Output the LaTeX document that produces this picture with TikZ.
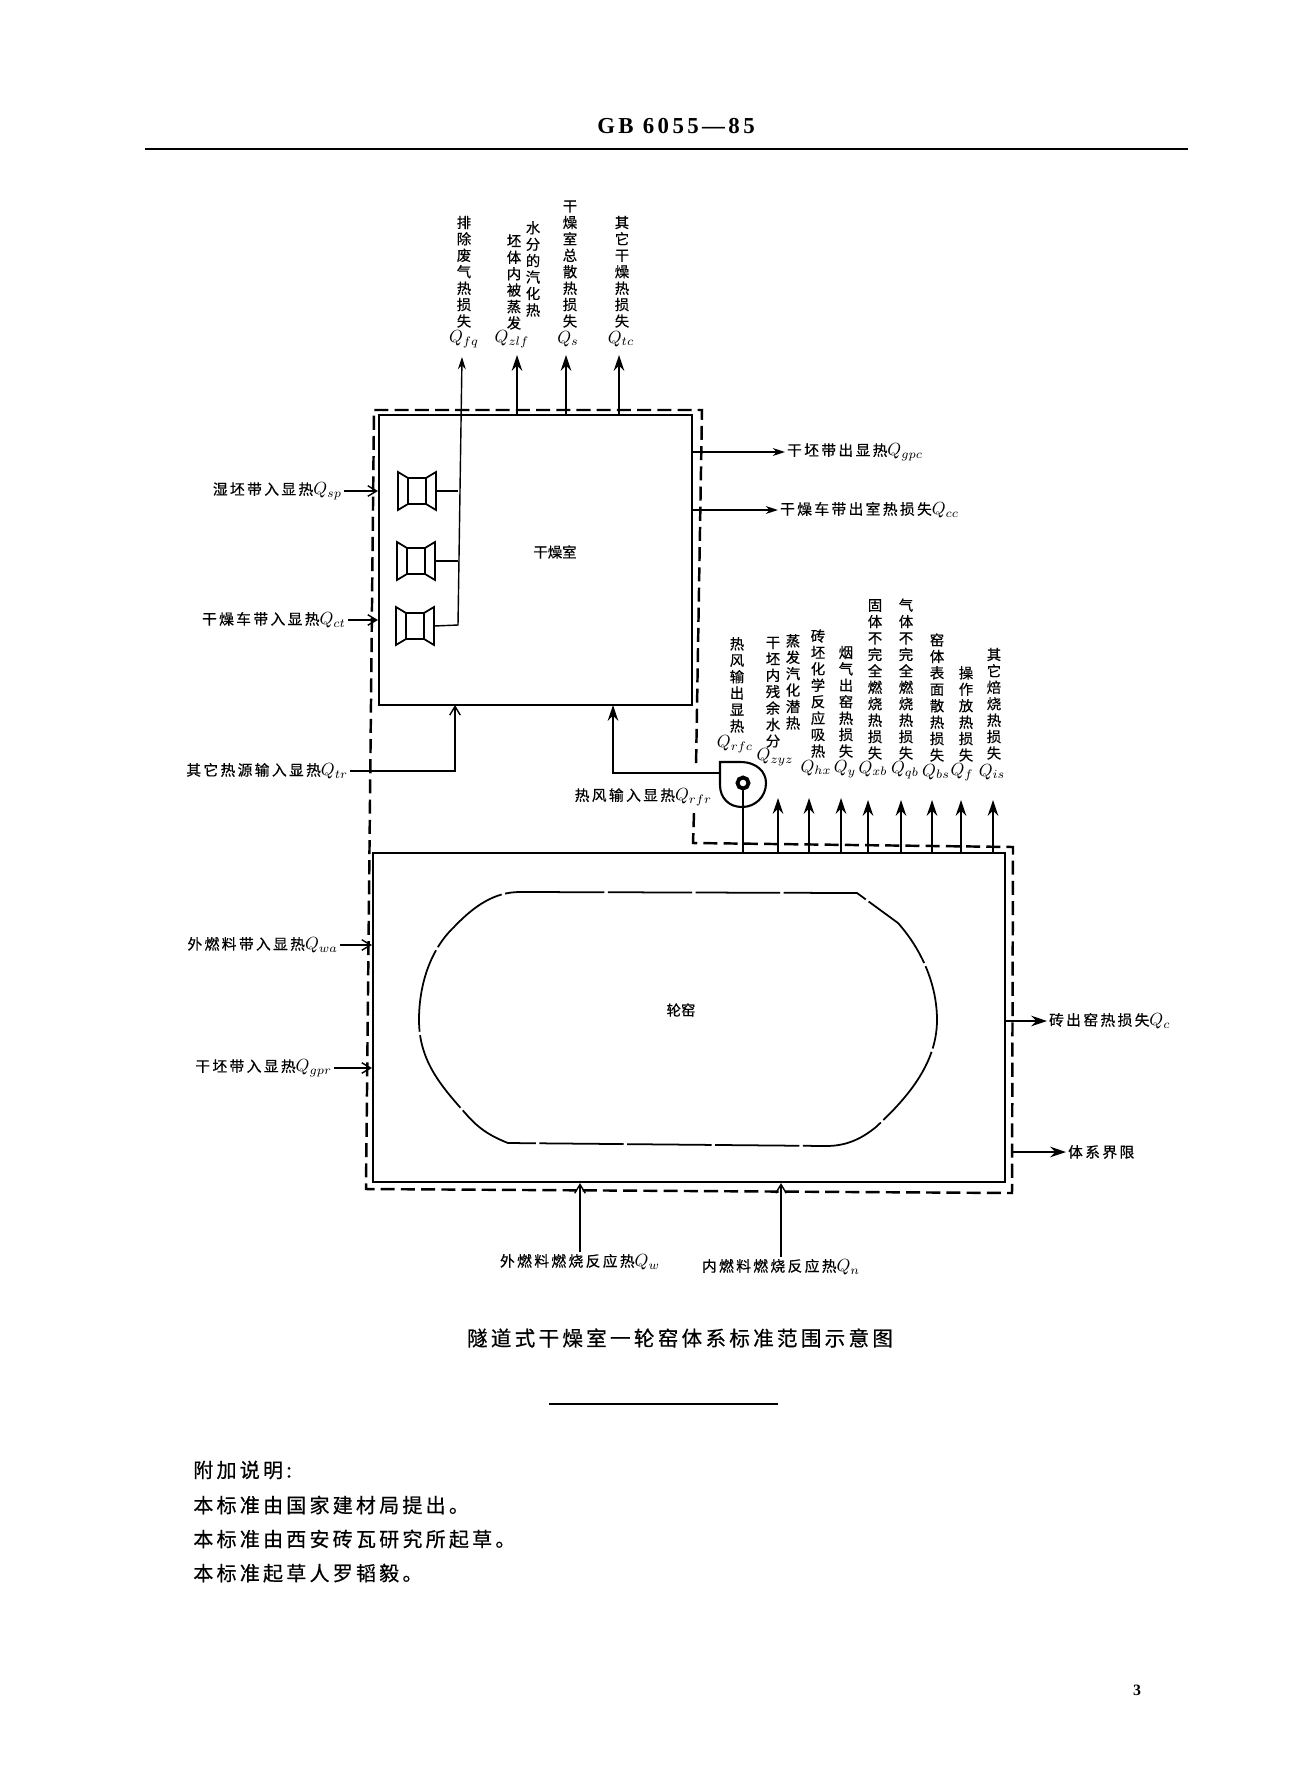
\documentclass[tikz,border=0pt]{standalone}
\usepackage{fontspec}
\usetikzlibrary{arrows.meta,fit}
\newfontfamily\cjk[FakeBold=0.5]{Noto Sans CJK SC}
\newfontfamily\cjksp[LetterSpace=16,FakeBold=0.5]{Noto Sans CJK SC}
\newfontfamily\gbfont[LetterSpace=15]{Liberation Serif}
\newcommand{\Qh}[1]{{\fontsize{10}{12}\selectfont$Q_{#1}$}}
\tikzset{
    vlabel/.style={font=\cjk\fontsize{8.2}{9.35}\selectfont, align=center, inner sep=0, anchor=south},
    hlabel/.style={font=\cjksp\fontsize{8.4}{10}\selectfont, inner sep=1pt},
    qlabel/.style={font=\fontsize{10}{12}\selectfont, inner sep=0},
    bodytext/.style={font=\cjksp\fontsize{11.4}{13}\selectfont, inner sep=0},
    wall/.style={draw, line width=1.2pt, inner sep=0},
    boundary/.style={line width=1.4pt, dash pattern=on 8pt off 3.5pt},
    bigflow/.style={line width=1.1pt, -{Stealth[length=9pt,width=6pt]}},
    thinflow/.style={line width=0.8pt, -{Stealth[length=7pt,width=4.5pt]}},
    inflow/.style={line width=0.8pt, -{Straight Barb[length=5pt,width=6pt]}},
    dryfan/.pic={
        \draw[line width=1pt] (-19,-19) -- (-9,-13) -- (-9,13) -- (-19,19) -- cycle;
        \draw[line width=1pt] (19,-19) -- (9,-13) -- (9,13) -- (19,19) -- cycle;
        \draw[line width=1pt] (-9,-13) rectangle (9,13);
        \coordinate (-east) at (19,0);
    },
}
\begin{document}
\begin{tikzpicture}[x=0.02cm,y=-0.02cm]
    \useasboundingbox (0,0) rectangle (1300,1784);
    % page head
    \node[font=\gbfont\bfseries\fontsize{13}{15}\selectfont, inner sep=0] (head) at (676,126) {GB 6055—85};
    \coordinate (ruleL) at (145,149);
    \coordinate (ruleR) at (1188,149);
    \draw[line width=1.1pt] (ruleL) -- (ruleR);
    % rooms
    \node[wall, fit={(379,415) (692,705)}] (dry) {};
    \node[wall, fit={(373,853) (1005,1182)}] (kiln) {};
    \node[font=\cjk\fontsize{8.2}{10}\selectfont, inner sep=0] (drylabel) at (555,552) {干燥室};
    \node[font=\cjk\fontsize{8.2}{10}\selectfont, inner sep=0] (kilnlabel) at (681,1010) {轮窑};
    % system boundary
    \draw[boundary] (694,813) -- (693,843) -- (1013,847) -- (1012,1193) -- (366,1189) -- (374,410) -- (702,410) -- (696,768);
    % ring of the kiln
    \draw[line width=1pt, dash pattern=on 48pt off 2pt]
        (520,892) -- (857,893) -- (898,923)
        .. controls (922,950) and (937,985) .. (937,1020)
        .. controls (937,1065) and (905,1100) .. (876,1127)
        .. controls (860,1140) and (845,1146) .. (826,1146)
        -- (508,1143)
        .. controls (490,1136) and (478,1128) .. (466,1114)
        .. controls (440,1085) and (419,1060) .. (419,1020)
        .. controls (419,985) and (430,950) .. (454,927)
        .. controls (475,905) and (495,892) .. (520,892);
    % fans of the drying room
    \pic (fana) at (417,491) {dryfan};
    \pic (fanb) at (416,561) {dryfan};
    \pic (fanc) at (415,626) {dryfan};
    \coordinate (duct) at (458,625);
    \coordinate (tfq) at (462,357);
    \draw[thinflow] (fanc-east) -- (duct) -- (tfq);
    \draw[line width=0.8pt] (fana-east) -- (fana-east -| duct);
    \draw[line width=0.8pt] (fanb-east) -- (fanb-east -| duct);
    % losses on top of the drying room
    \node[vlabel] (lfq) at (464,328) {排\\除\\废\\气\\热\\损\\失};
    \node[vlabel] (lzla) at (514,330) {坯\\体\\内\\被\\蒸\\发};
    \node[vlabel] (lzlb) at (533,317) {水\\分\\的\\汽\\化\\热};
    \node[vlabel] (ls) at (570,328) {干\\燥\\室\\总\\散\\热\\损\\失};
    \node[vlabel] (ltc) at (622,328) {其\\它\\干\\燥\\热\\损\\失};
    \node[qlabel] (qfq) at (464,339) {$Q_{fq}$};
    \node[qlabel] (qzlf) at (512,339) {$Q_{zlf}$};
    \node[qlabel] (qs) at (568,339) {$Q_{s}$};
    \node[qlabel] (qtc) at (621,339) {$Q_{tc}$};
    \coordinate (tzlf) at (517,355);
    \coordinate (ts) at (566,355);
    \coordinate (ttc) at (619,355);
    \draw[bigflow] (dry.north -| tzlf) -- (tzlf);
    \draw[bigflow] (dry.north -| ts) -- (ts);
    \draw[bigflow] (dry.north -| ttc) -- (ttc);
    % right of the drying room
    \node[hlabel, anchor=west] (qgpc) at (785,452) {干坯带出显热\Qh{gpc}};
    \node[hlabel, anchor=west] (qcc) at (778,510) {干燥车带出室热损失\Qh{cc}};
    \draw[thinflow] (dry.east |- qgpc) -- (qgpc.west);
    \draw[thinflow] (dry.east |- qcc) -- (qcc.west);
    % left of the drying room
    \node[hlabel, anchor=east] (qsp) at (344,491) {湿坯带入显热\Qh{sp}};
    \node[hlabel, anchor=east] (qct) at (348,620) {干燥车带入显热\Qh{ct}};
    \node[hlabel, anchor=east] (qtr) at (350,771) {其它热源输入显热\Qh{tr}};
    \coordinate (trin) at (455,705);
    \draw[inflow] (qsp.east) -- (dry.west |- qsp);
    \draw[inflow] (qct.east) -- (dry.west |- qct);
    \draw[inflow] (qtr.east) -| (trin);
    % blower and hot air
    \node[circle, draw, line width=2.2pt, minimum size=0.22cm, inner sep=0] (hub) at (743,783) {};
    \draw[line width=1.2pt] (720,762) -- (740,762)
        .. controls (757,762) and (766,772) .. (766,783)
        .. controls (766,797) and (755,807) .. (742,807)
        .. controls (729,807) and (720,798) .. (720,785) -- cycle;
    \draw[line width=1.1pt] (kiln.north -| hub) -- (hub);
    \coordinate (fanout) at (720,773);
    \coordinate (rfin) at (613,705);
    \draw[bigflow] (fanout) -| (rfin);
    \node[hlabel, anchor=east] (qrfr) at (714,797) {热风输入显热\Qh{rfr}};
    % losses on top of the kiln
    \node[vlabel] (lrfc) at (737,733) {热\\风\\输\\出\\显\\热};
    \node[vlabel] (lzyza) at (773,748) {干\\坯\\内\\残\\余\\水\\分};
    \node[vlabel] (lzyzb) at (793,730) {蒸\\发\\汽\\化\\潜\\热};
    \node[vlabel] (lhx) at (818,758) {砖\\坯\\化\\学\\反\\应\\吸\\热};
    \node[vlabel] (ly) at (846,758) {烟\\气\\出\\窑\\热\\损\\失};
    \node[vlabel] (lxb) at (875,760) {固\\体\\不\\完\\全\\燃\\烧\\热\\损\\失};
    \node[vlabel] (lqb) at (906,760) {气\\体\\不\\完\\全\\燃\\烧\\热\\损\\失};
    \node[vlabel] (lbs) at (937,762) {窑\\体\\表\\面\\散\\热\\损\\失};
    \node[vlabel] (lf) at (966,762) {操\\作\\放\\热\\损\\失};
    \node[vlabel] (lis) at (994,760) {其\\它\\焙\\烧\\热\\损\\失};
    \node[qlabel] (qrfc) at (735,744) {$Q_{rfc}$};
    \node[qlabel] (qzyz) at (775,757) {$Q_{zyz}$};
    \node[qlabel] (qhx) at (816,768) {$Q_{hx}$};
    \node[qlabel] (qy) at (845,769) {$Q_{y}$};
    \node[qlabel] (qxb) at (873,769) {$Q_{xb}$};
    \node[qlabel] (qqb) at (905,770) {$Q_{qb}$};
    \node[qlabel] (qbs) at (936,772) {$Q_{bs}$};
    \node[qlabel] (qf) at (962,772) {$Q_{f}$};
    \node[qlabel] (qis) at (992,772) {$Q_{is}$};
    \coordinate (tzyz) at (778,798);
    \coordinate (thx) at (809,798);
    \coordinate (ty) at (841,798);
    \coordinate (txb) at (868,800);
    \coordinate (tqb) at (901,800);
    \coordinate (tbs) at (932,800);
    \coordinate (tf) at (961,800);
    \coordinate (tis) at (993,800);
    \draw[bigflow] (kiln.north -| tzyz) -- (tzyz);
    \draw[bigflow] (kiln.north -| thx) -- (thx);
    \draw[bigflow] (kiln.north -| ty) -- (ty);
    \draw[bigflow] (kiln.north -| txb) -- (txb);
    \draw[bigflow] (kiln.north -| tqb) -- (tqb);
    \draw[bigflow] (kiln.north -| tbs) -- (tbs);
    \draw[bigflow] (kiln.north -| tf) -- (tf);
    \draw[bigflow] (kiln.north -| tis) -- (tis);
    % around the kiln
    \node[hlabel, anchor=east] (qwa) at (340,945) {外燃料带入显热\Qh{wa}};
    \node[hlabel, anchor=east] (qgpr) at (334,1068) {干坯带入显热\Qh{gpr}};
    \node[hlabel, anchor=west] (qc) at (1047,1021) {砖出窑热损失\Qh{c}};
    \node[hlabel, anchor=west] (sysb) at (1066,1152) {体系界限};
    \coordinate (sysa) at (1011,1152);
    \node[hlabel] (qw) at (580,1262) {外燃料燃烧反应热\Qh{w}};
    \node[hlabel] (qn) at (781,1267) {内燃料燃烧反应热\Qh{n}};
    \draw[inflow] (qwa.east) -- (kiln.west |- qwa);
    \draw[inflow] (qgpr.east) -- (kiln.west |- qgpr);
    \draw[bigflow] (kiln.east |- qc) -- (qc.west);
    \draw[bigflow] (sysa) -- (sysb.west);
    \draw[inflow] (qw.north) -- (qw.north |- kiln.south);
    \draw[inflow] (qn.north) -- (qn.north |- kiln.south);
    % caption and notes
    \node[bodytext, font=\cjksp\fontsize{11.7}{13}\selectfont] (caption) at (680,1338) {隧道式干燥室一轮窑体系标准范围示意图};
    \coordinate (capL) at (549,1404);
    \coordinate (capR) at (778,1404);
    \draw[line width=1.4pt] (capL) -- (capR);
    \node[bodytext, anchor=west] (noteA) at (193,1470) {附加说明:};
    \node[bodytext, anchor=west] (noteB) at (193,1505) {本标准由国家建材局提出。};
    \node[bodytext, anchor=west] (noteC) at (193,1539) {本标准由西安砖瓦研究所起草。};
    \node[bodytext, anchor=west] (noteD) at (193,1573) {本标准起草人罗韬毅。};
    \node[font=\gbfont\bfseries\fontsize{9}{11}\selectfont, inner sep=0] (pagenum) at (1137,1690) {3};
\end{tikzpicture}
\end{document}
